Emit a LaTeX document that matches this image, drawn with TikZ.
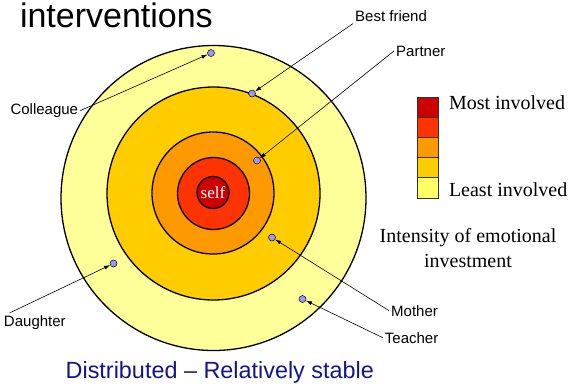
\documentclass[tikz,border=0pt]{standalone}
\usepackage{fontspec}
\setmainfont{Liberation Serif}
\newfontfamily\arialfont{Liberation Sans}
\usepackage{tikz}
\usetikzlibrary{positioning}
\usetikzlibrary{arrows.meta}
\definecolor{cSelf}{HTML}{CC0000}
\definecolor{cRed}{HTML}{FF3300}
\definecolor{cOrange}{HTML}{FF9900}
\definecolor{cGold}{HTML}{FFCC00}
\definecolor{cOuter}{HTML}{FFFF99}
\definecolor{cPale}{HTML}{FFFF66}
\definecolor{cDot}{HTML}{9999FF}
\definecolor{cNavy}{RGB}{20,20,140}

\begin{document}
\begin{tikzpicture}[x=1pt, y=-1pt,
		ring/.style={circle, draw=black, line width=1.3pt, inner sep=0pt},
		dot/.style={circle, draw=black, line width=.5pt, fill=cDot, minimum size=7pt, inner sep=0pt},
		lbl/.style={font=\arialfont\fontsize{15}{18}\selectfont, inner sep=2pt, anchor=base west},
		txt/.style={font=\fontsize{20}{25}\selectfont, inner sep=0pt},
		ptr/.style={-{Latex[length=6pt,width=4pt]}, line width=.6pt},
		key/.style={draw=black!80, line width=.8pt, minimum width=21pt, minimum height=20.2pt, inner sep=0pt, outer sep=0pt}]
	\useasboundingbox (0,0) rectangle (570,384);
	\node[anchor=base west, inner sep=0pt, font=\arialfont\fontsize{34}{38}\selectfont] (title) at (19.8,27.5) {interventions};
	% rings
	\node[ring, fill=cOuter, minimum size=305pt] (outer) at (213.5,198) {};
	\node[ring, fill=cGold, minimum size=213pt] (gold) at (213.5,193.5) {};
	\node[ring, fill=cOrange, minimum size=122pt] (orange) at (213,193) {};
	\node[ring, fill=cRed, minimum size=72pt] (red) at (213.5,193.5) {};
	\node[ring, fill=cSelf, minimum size=32pt, text=white, font=\fontsize{17}{18}\selectfont] (self) at (213,192.5) {self};
	% people
	\node[dot] (col) at (211,53) {};
	\node[dot] (bf) at (252,93.5) {};
	\node[dot] (par) at (257,160.5) {};
	\node[dot] (mot) at (272,237.5) {};
	\node[dot] (dau) at (113.5,263.5) {};
	\node[dot] (tea) at (302.5,299) {};
	\node[lbl] (colL) at (8.3,114.5) {Colleague};
	\node[lbl] (bfL) at (353,21.2) {Best friend};
	\node[lbl] (parL) at (394,56) {Partner};
	\node[lbl] (motL) at (389,316) {Mother};
	\node[lbl] (teaL) at (382.7,343) {Teacher};
	\node[lbl] (dauL) at (1.8,326) {Daughter};
	\draw[ptr] (colL.east) -- (col);
	\draw[ptr] (bfL.south west) -- (bf);
	\draw[ptr] (parL.west) -- (par);
	\draw[ptr] (motL.west) -- (mot);
	\draw[ptr] (teaL.west) -- (tea);
	\draw[ptr] (dauL.160) -- (dau);
	% legend
	\node[key, fill=cSelf] (k1) at (427.5,107.1) {};
	\node[key, fill=cRed, below=0pt of k1] (k2) {};
	\node[key, fill=cOrange, below=0pt of k2] (k3) {};
	\node[key, fill=cGold, below=0pt of k3] (k4) {};
	\node[key, fill=cPale, below=0pt of k4] (k5) {};
	\node[txt, anchor=base west] (most) at (448.8,109) {Most involved};
	\node[txt, anchor=base west] (least) at (448.8,196) {Least involved};
	\node[txt, align=center] (intens) at (468,248) {Intensity of emotional\\investment};
	\node[anchor=base west, inner sep=0pt, text=cNavy, font=\arialfont\fontsize{23.4}{28}\selectfont] (caption) at (65.5,378) {Distributed – Relatively stable};
\end{tikzpicture}
\end{document}
